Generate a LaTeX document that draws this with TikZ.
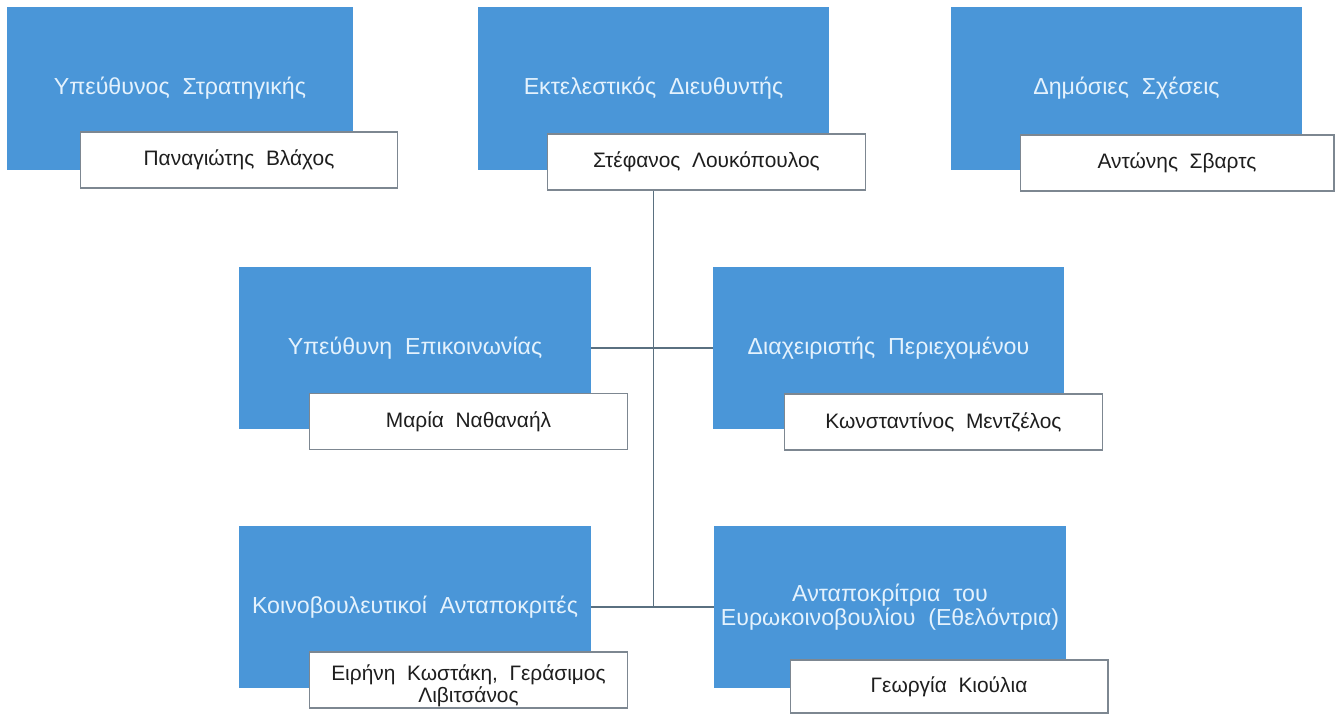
\documentclass[tikz,border=0pt]{standalone}
\usepackage{fontspec}
\setmainfont{Liberation Sans}
\usepackage{tikz}
\usetikzlibrary{positioning,calc}

\definecolor{roleblue}{RGB}{74,150,216}
\definecolor{roletext}{RGB}{228,242,253}
\definecolor{nametext}{RGB}{30,30,30}
\definecolor{nameline}{RGB}{125,135,145}
\definecolor{linkgray}{RGB}{90,112,128}

\tikzset{
	rolebox/.style={fill=roleblue, text=roletext, minimum width=7.04cm, minimum height=3.26cm, inner sep=0pt, align=center, font=\fontsize{13.2}{13.6}\selectfont},
	namebox/.style={fill=white, draw=nameline, line width=0.6pt, text=nametext, minimum width=6.36cm, minimum height=1.12cm, inner sep=0pt, align=center, font=\fontsize{11.9}{12.6}\selectfont},
	link/.style={draw=linkgray, line width=0.9pt}
}

\begin{document}
\begin{tikzpicture}[x=0.02cm, y=-0.02cm]
		\useasboundingbox (0,0) rectangle (1336,715);
		% top row
		\node [rolebox, minimum width=6.92cm](strategy) at (180,88.5) {Υπεύθυνος\ \ Στρατηγικής};
		\node [rolebox, minimum width=7.02cm](exec) at (653.5,88.5) {Εκτελεστικός\ \ Διευθυντής};
		\node [rolebox, minimum width=7.02cm](pr) at (1126.5,88.5) {Δημόσιες\ \ Σχέσεις};
		\node [namebox](strategyname) at (239,160) {Παναγιώτης\ \ Βλάχος};
		\node [namebox](execname) at (706.5,162) {Στέφανος\ \ Λουκόπουλος};
		\node [namebox, minimum width=6.28cm](prname) at (1177,163) {Αντώνης\ \ Σβαρτς};
		% middle row
		\node [rolebox](comm) at (415,348) {Υπεύθυνη\ \ Επικοινωνίας};
		\node [rolebox, minimum width=7.02cm](content) at (888.5,348) {Διαχειριστής\ \ Περιεχομένου};
		\node [namebox](commname) at (468.5,421.5) {Μαρία\ \ Ναθαναήλ};
		\node [namebox](contentname) at (943.5,422) {Κωνσταντίνος\ \ Μεντζέλος};
		% bottom row
		\node [rolebox, minimum height=3.24cm](parl) at (415,607) {Κοινοβουλευτικοί\ \ Ανταποκριτές};
		\node [rolebox, minimum height=3.24cm](euro) at (890,607) {Ανταποκρίτρια\ \ του\\Ευρωκοινοβουλίου\ \ (Εθελόντρια)};
		\node [namebox](parlname) at (468.5,680) {\rule{0pt}{16pt}Ειρήνη\ \ Κωστάκη,\ \ Γεράσιμος\\Λιβιτσάνος};
		\node [namebox, minimum height=1.06cm](euroname) at (949,686.5) {Γεωργία\ \ Κιούλια};
		% connectors
		\draw [link] (exec.south |- execname.south) -- (exec.south |- parl.east);
		\draw [link] (comm.east) -- (content.west);
		\draw [link] (parl.east) -- (euro.west);
\end{tikzpicture}
\end{document}
